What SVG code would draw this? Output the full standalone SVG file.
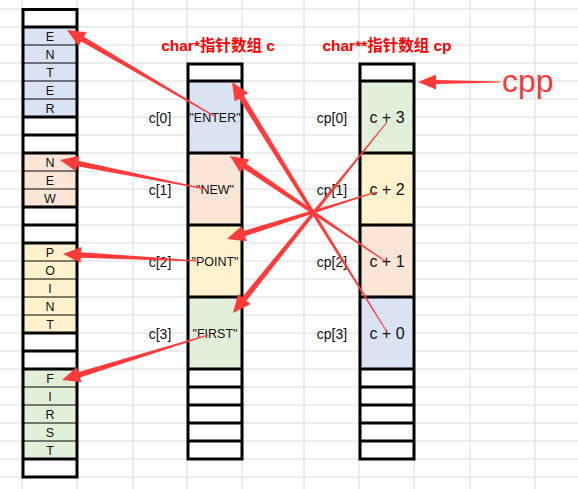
<svg xmlns="http://www.w3.org/2000/svg" width="578" height="489" viewBox="0 0 578 489">
<style>
.grid line{stroke:#DADADA;stroke-width:1}
.thick{stroke:#000;stroke-width:3}
.thin{stroke:#000;stroke-width:1}
.box{fill:none;stroke:#000;stroke-width:3}
.ch{font-family:"Liberation Sans",Arial,sans-serif;font-size:12.5px;fill:#111;text-anchor:middle}
.lbl{font-family:"Liberation Sans",Arial,sans-serif;font-size:14px;fill:#111;text-anchor:middle}
.cell{font-family:"Liberation Sans",Arial,sans-serif;font-size:12.5px;fill:#111;text-anchor:middle}
.ptr{font-family:"Liberation Sans",Arial,sans-serif;font-size:16px;fill:#111;text-anchor:middle}
.title{font-family:"Liberation Sans","Noto Sans CJK SC",sans-serif;font-size:15.5px;font-weight:bold;fill:#FF0000;text-anchor:middle}
.big{font-family:"Liberation Sans",Arial,sans-serif;font-size:32px;fill:#F23C3C}
.arrow{fill:#FF3B3B}
.b{fill:#DAE3F3}.p{fill:#FBE5D6}.y{fill:#FFF2CC}.g{fill:#E2F0D9}.w{fill:#FFFFFF}
</style>
<rect x="0" y="0" width="578" height="489" fill="#FFFFFF"/>
<g class="grid">
<line x1="0" y1="9" x2="578" y2="9"/><line x1="0" y1="27" x2="578" y2="27"/><line x1="0" y1="45" x2="578" y2="45"/><line x1="0" y1="63" x2="578" y2="63"/><line x1="0" y1="81" x2="578" y2="81"/><line x1="0" y1="99" x2="578" y2="99"/><line x1="0" y1="117" x2="578" y2="117"/><line x1="0" y1="135" x2="578" y2="135"/><line x1="0" y1="153" x2="578" y2="153"/><line x1="0" y1="171" x2="578" y2="171"/><line x1="0" y1="189" x2="578" y2="189"/><line x1="0" y1="207" x2="578" y2="207"/><line x1="0" y1="225" x2="578" y2="225"/><line x1="0" y1="243" x2="578" y2="243"/><line x1="0" y1="261" x2="578" y2="261"/><line x1="0" y1="279" x2="578" y2="279"/><line x1="0" y1="297" x2="578" y2="297"/><line x1="0" y1="315" x2="578" y2="315"/><line x1="0" y1="333" x2="578" y2="333"/><line x1="0" y1="351" x2="578" y2="351"/><line x1="0" y1="369" x2="578" y2="369"/><line x1="0" y1="387" x2="578" y2="387"/><line x1="0" y1="405" x2="578" y2="405"/><line x1="0" y1="423" x2="578" y2="423"/><line x1="0" y1="441" x2="578" y2="441"/><line x1="0" y1="459" x2="578" y2="459"/><line x1="0" y1="477" x2="578" y2="477"/>
<line x1="22" y1="0" x2="22" y2="489"/><line x1="77" y1="0" x2="77" y2="489"/><line x1="133" y1="0" x2="133" y2="489"/><line x1="187" y1="0" x2="187" y2="489"/><line x1="242" y1="0" x2="242" y2="489"/><line x1="304" y1="0" x2="304" y2="489"/><line x1="359" y1="0" x2="359" y2="489"/><line x1="414" y1="0" x2="414" y2="489"/><line x1="470" y1="0" x2="470" y2="489"/><line x1="535" y1="0" x2="535" y2="489"/>
</g>
<g id="strings">
<rect class="w" x="23" y="9" width="54" height="468"/>
<rect class="b" x="23" y="27" width="54" height="90"/>
<rect class="p" x="23" y="153" width="54" height="54"/>
<rect class="y" x="23" y="243" width="54" height="90"/>
<rect class="g" x="23" y="369" width="54" height="90"/>
<g class="thin"><line x1="23" y1="45" x2="77" y2="45"/><line x1="23" y1="63" x2="77" y2="63"/><line x1="23" y1="81" x2="77" y2="81"/><line x1="23" y1="99" x2="77" y2="99"/><line x1="23" y1="171" x2="77" y2="171"/><line x1="23" y1="189" x2="77" y2="189"/><line x1="23" y1="261" x2="77" y2="261"/><line x1="23" y1="279" x2="77" y2="279"/><line x1="23" y1="297" x2="77" y2="297"/><line x1="23" y1="315" x2="77" y2="315"/><line x1="23" y1="387" x2="77" y2="387"/><line x1="23" y1="405" x2="77" y2="405"/><line x1="23" y1="423" x2="77" y2="423"/><line x1="23" y1="441" x2="77" y2="441"/></g>
<g class="thick"><line x1="23" y1="27" x2="77" y2="27"/><line x1="23" y1="117" x2="77" y2="117"/><line x1="23" y1="135" x2="77" y2="135"/><line x1="23" y1="153" x2="77" y2="153"/><line x1="23" y1="207" x2="77" y2="207"/><line x1="23" y1="225" x2="77" y2="225"/><line x1="23" y1="243" x2="77" y2="243"/><line x1="23" y1="333" x2="77" y2="333"/><line x1="23" y1="351" x2="77" y2="351"/><line x1="23" y1="369" x2="77" y2="369"/><line x1="23" y1="459" x2="77" y2="459"/></g>
<rect class="box" x="23" y="9.5" width="54" height="467.5"/>
<text class="ch" x="50" y="41">E</text><text class="ch" x="50" y="59">N</text><text class="ch" x="50" y="77">T</text><text class="ch" x="50" y="95">E</text><text class="ch" x="50" y="113">R</text>
<text class="ch" x="50" y="167">N</text><text class="ch" x="50" y="185">E</text><text class="ch" x="50" y="203">W</text>
<text class="ch" x="50" y="257">P</text><text class="ch" x="50" y="275">O</text><text class="ch" x="50" y="293">I</text><text class="ch" x="50" y="311">N</text><text class="ch" x="50" y="329">T</text>
<text class="ch" x="50" y="383">F</text><text class="ch" x="50" y="401">I</text><text class="ch" x="50" y="419">R</text><text class="ch" x="50" y="437">S</text><text class="ch" x="50" y="455">T</text>
</g>
<g id="title-c"><text class="title" x="218" y="51">char*指针数组 c</text></g>
<g id="title-cp"><text class="title" x="387" y="51">char**指针数组 cp</text></g>
<g id="array-c">
<rect class="w" x="188" y="63" width="54" height="396"/>
<rect class="b" x="188" y="81" width="54" height="72"/>
<rect class="p" x="188" y="153" width="54" height="72"/>
<rect class="y" x="188" y="225" width="54" height="72"/>
<rect class="g" x="188" y="297" width="54" height="72"/>
<g class="thick"><line x1="188" y1="81" x2="242" y2="81"/><line x1="188" y1="153" x2="242" y2="153"/><line x1="188" y1="225" x2="242" y2="225"/><line x1="188" y1="297" x2="242" y2="297"/><line x1="188" y1="369" x2="242" y2="369"/><line x1="188" y1="387" x2="242" y2="387"/><line x1="188" y1="405" x2="242" y2="405"/><line x1="188" y1="423" x2="242" y2="423"/><line x1="188" y1="441" x2="242" y2="441"/></g>
<rect class="box" x="188" y="64" width="54" height="395"/>
<text class="cell" x="215" y="122">"ENTER"</text>
<text class="cell" x="215" y="194">"NEW"</text>
<text class="cell" x="215" y="266">"POINT"</text>
<text class="cell" x="215" y="338">"FIRST"</text>
<text class="lbl" x="160" y="123">c[0]</text>
<text class="lbl" x="160" y="195">c[1]</text>
<text class="lbl" x="160" y="267">c[2]</text>
<text class="lbl" x="160" y="339">c[3]</text>
</g>
<g id="array-cp">
<rect class="w" x="360" y="63" width="54" height="396"/>
<rect class="g" x="360" y="81" width="54" height="72"/>
<rect class="y" x="360" y="153" width="54" height="72"/>
<rect class="p" x="360" y="225" width="54" height="72"/>
<rect class="b" x="360" y="297" width="54" height="72"/>
<g class="thick"><line x1="360" y1="81" x2="414" y2="81"/><line x1="360" y1="153" x2="414" y2="153"/><line x1="360" y1="225" x2="414" y2="225"/><line x1="360" y1="297" x2="414" y2="297"/><line x1="360" y1="369" x2="414" y2="369"/><line x1="360" y1="387" x2="414" y2="387"/><line x1="360" y1="405" x2="414" y2="405"/><line x1="360" y1="423" x2="414" y2="423"/><line x1="360" y1="441" x2="414" y2="441"/></g>
<rect class="box" x="360" y="64" width="54" height="395"/>
<text class="ptr" x="387" y="123">c + 3</text>
<text class="ptr" x="387" y="195">c + 2</text>
<text class="ptr" x="387" y="267">c + 1</text>
<text class="ptr" x="387" y="339">c + 0</text>
<text class="lbl" x="332" y="123">cp[0]</text>
<text class="lbl" x="332" y="195">cp[1]</text>
<text class="lbl" x="332" y="267">cp[2]</text>
<text class="lbl" x="332" y="339">cp[3]</text>
</g>
<g id="cpp"><text class="big" x="502" y="92">cpp</text></g>
<g id="connectors" class="arrow">
<polygon points="387.4,331.7 243.9,95.8 248.3,93.1 232,82 234.7,101.5 239.1,98.8 386.6,332.3"/>
<polygon points="385.3,260.6 246.5,163.8 249.4,159.5 230,156 240.4,172.7 243.3,168.4 384.7,261.4"/>
<polygon points="375.85,191.52 243.33,230.91 241.76,225.95 227,239 246.58,241.21 245.01,236.25 376.15,192.48"/>
<polygon points="386.61,121.69 242.12,297.23 238.07,293.97 233,313 250.53,304.01 246.48,300.75 387.39,122.31"/>
<polygon points="214.25,115.57 83.95,36.67 86.58,32.18 67,30 78.5,46 81.13,41.51 213.75,116.43"/>
<polygon points="205.1,188.51 78.2,160.78 79.22,155.69 60,160 76.08,171.37 77.1,166.28 204.9,189.49"/>
<polygon points="198.03,260.5 81.12,252.13 81.39,246.94 63,254 80.57,262.92 80.83,257.73 197.97,261.5"/>
<polygon points="207.85,334.52 78.38,372.02 76.84,367.06 62,380 81.56,382.35 80.03,377.38 208.15,335.48"/>
<polygon points="500,81.4 436,80 436,74.5 418,82 436,89.5 436,84 500,82.6"/>
</g>
</svg>
